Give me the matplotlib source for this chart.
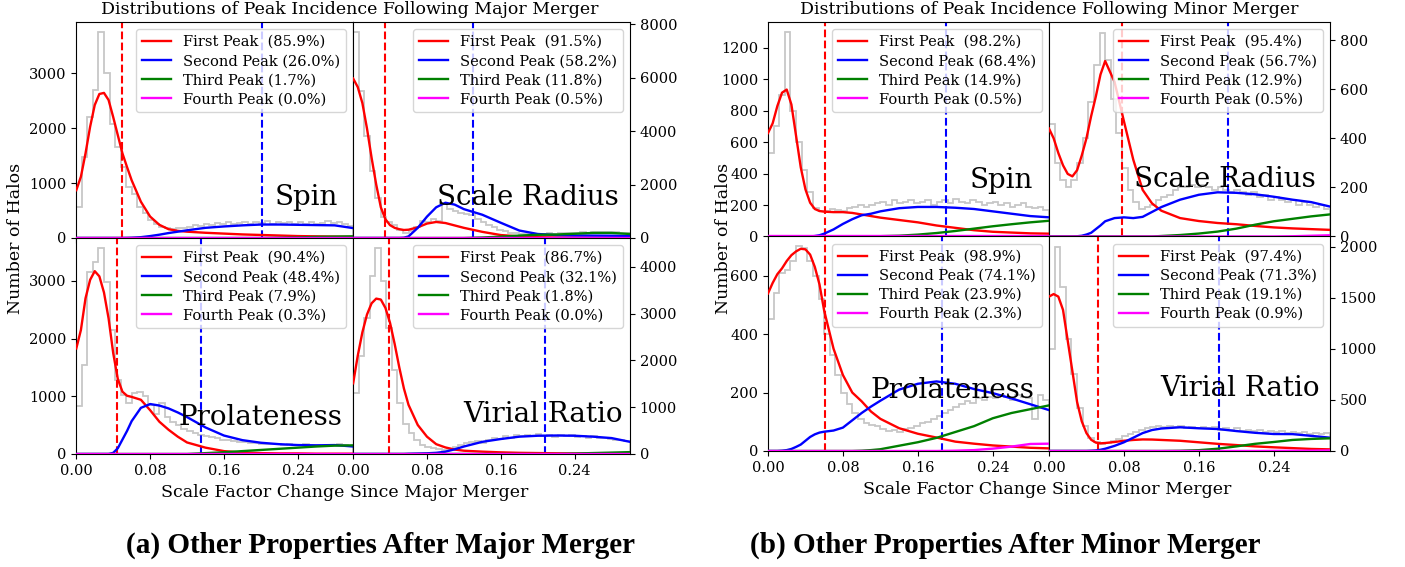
import numpy as np
import matplotlib
matplotlib.use("Agg")
import matplotlib.pyplot as plt

plt.rcParams['font.family'] = 'DejaVu Serif'

a_grid = [0, .005, .01, .015, .02, .025, .03, .035, .04, .045, .05, .055, .06,
          .07, .08, .09, .10, .11, .12, .14, .16, .18, .20, .22, .24, .26, .28, .30]
# histogram bins (50 bins from 0 to 0.3)
hist_edges = np.linspace(0, 0.30, 51)

peak_names = ["First Peak ", "Second Peak", "Third Peak", "Fourth Peak"]
peak_colors = ["red", "blue", "green", "magenta"]
flat_zero = [0, 0, 0, 0, 0, 0, 0, 0, 0, 0, 0, 0, 0, 0,
             0, 0, 0, 0, 0, 0, 0, 0, 0, 0, 0, 0, 0, 0]

# ---------------- major merger ----------------
maj_spin_hist = [570, 1480, 2200, 2690, 3750, 3000, 2080, 1660, 1300, 930, 800, 570, 450, 330, 250, 200, 180,
                 170, 190, 180, 200, 230, 210, 250, 230, 270, 250, 290, 260, 280, 290, 250, 300, 270, 310, 260,
                 290, 270, 300, 250, 290, 260, 300, 250, 280, 310, 270, 290, 250, 220]
maj_spin_first = [870, 1115, 1540, 2025, 2420, 2620, 2640, 2510, 2200, 1870, 1540, 1290, 1050, 660, 390, 240,
                  160, 130, 115, 95, 80, 65, 55, 45, 35, 30, 25, 20]
maj_spin_second = [0, 0, 0, 0, 0, 0, 0, 0, 0, 0, 0, 2, 5, 15, 35, 60, 90, 115, 140, 185, 210, 230, 245, 245,
                   240, 235, 230, 180]
maj_spin_third = [0, 0, 0, 0, 0, 0, 0, 0, 0, 0, 0, 0, 0, 0, 0, 0, 0, 0, 0, 0, 0, 0, 0, 5, 10, 20, 25, 30]
maj_spin_pct = [85.9, 26.0, 1.7, 0.0]
maj_spin_mean = [0.050, 0.201]

maj_rs_hist = [7700, 5500, 3800, 2500, 1500, 800, 600, 500, 300, 200, 250, 400, 650, 600, 700, 650, 1300, 1100,
               1000, 950, 900, 850, 700, 600, 500, 400, 300, 250, 200, 180, 160, 150, 140, 150, 160, 170, 160,
               180, 190, 200, 190, 210, 200, 220, 210, 230, 220, 210, 200, 190]
maj_rs_first = [5970, 5650, 5050, 4100, 3000, 2000, 1150, 700, 480, 380, 330, 300, 310, 400, 540, 600, 560,
                470, 380, 230, 110, 60, 30, 20, 15, 10, 10, 10]
maj_rs_second = [0, 0, 0, 0, 0, 0, 0, 0, 0, 0, 0, 10, 60, 380, 800, 1150, 1320, 1250, 1080, 870, 570, 280,
                 150, 110, 95, 90, 85, 80]
maj_rs_third = [0, 0, 0, 0, 0, 0, 0, 0, 0, 0, 0, 0, 0, 0, 0, 0, 0, 0, 0, 20, 50, 90, 120, 130, 160, 190, 190, 150]
maj_rs_pct = [91.5, 58.2, 11.8, 0.5]
maj_rs_mean = [0.034, 0.130]

maj_prol_hist = [840, 1540, 3150, 3330, 3570, 2990, 2150, 1280, 1020, 880, 1050, 1080, 1000, 850, 700, 880,
                 650, 560, 500, 430, 400, 370, 330, 310, 290, 270, 250, 240, 220, 210, 200, 190, 185, 180, 170,
                 165, 180, 160, 170, 160, 155, 170, 160, 150, 145, 160, 150, 165, 150, 140]
maj_prol_first = [1830, 2150, 2700, 3020, 3170, 3080, 2800, 2350, 1750, 1300, 1080, 1010, 990, 940, 760, 560,
                  420, 300, 200, 110, 50, 25, 15, 10, 10, 5, 5, 5]
maj_prol_second = [0, 0, 0, 0, 0, 0, 0, 0, 20, 100, 250, 400, 570, 800, 866, 840, 790, 720, 640, 460, 320, 240,
                   195, 170, 155, 150, 155, 130]
maj_prol_third = [0, 0, 0, 0, 0, 0, 0, 0, 0, 0, 0, 0, 0, 0, 0, 0, 0, 0, 0, 15, 30, 50, 70, 90, 110, 130, 145, 150]
maj_prol_pct = [90.4, 48.4, 7.9, 0.3]
maj_prol_mean = [0.044, 0.135]

maj_vir_hist = [1300, 2100, 2900, 3800, 4400, 3700, 2700, 1800, 1100, 650, 450, 300, 200, 150, 120, 100, 90,
                110, 150, 200, 230, 260, 280, 240, 300, 350, 330, 380, 350, 400, 380, 410, 390, 420, 380, 400,
                370, 410, 380, 400, 360, 390, 350, 380, 340, 350, 320, 300, 290, 270]
maj_vir_first = [1510, 2100, 2600, 2980, 3220, 3320, 3300, 3120, 2800, 2350, 1850, 1400, 1050, 620, 370, 210,
                 140, 95, 70, 50, 35, 25, 20, 15, 10, 10, 5, 5]
maj_vir_second = [0, 0, 0, 0, 0, 0, 0, 0, 0, 0, 0, 0, 5, 10, 15, 25, 50, 100, 160, 260, 320, 370, 390, 395,
                  390, 370, 340, 260]
maj_vir_third = [0, 0, 0, 0, 0, 0, 0, 0, 0, 0, 0, 0, 0, 0, 0, 0, 0, 0, 0, 0, 0, 0, 0, 0, 10, 20, 30, 40]
maj_vir_pct = [86.7, 32.1, 1.8, 0.0]
maj_vir_mean = [0.039, 0.208]

# ---------------- minor merger ----------------
min_spin_hist = [530, 700, 900, 1300, 800, 600, 420, 280, 180, 165, 160, 175, 170, 160, 180, 190, 200, 190,
                 200, 210, 220, 200, 230, 210, 220, 230, 210, 220, 230, 200, 220, 230, 210, 240, 220, 210, 230,
                 220, 200, 210, 220, 200, 210, 190, 200, 210, 190, 180, 190, 170]
min_spin_first = [658, 720, 830, 915, 935, 840, 640, 440, 300, 215, 175, 162, 158, 155, 155, 150, 140, 130,
                  120, 105, 90, 70, 55, 40, 30, 25, 20, 18]
min_spin_second = [0, 0, 0, 0, 0, 0, 0, 0, 0, 0, 3, 8, 18, 45, 80, 110, 135, 145, 160, 180, 188, 188, 183,
                   175, 160, 145, 130, 122]
min_spin_third = [0, 0, 0, 0, 0, 0, 0, 0, 0, 0, 0, 0, 0, 0, 0, 0, 0, 0, 2, 5, 12, 22, 35, 50, 65, 78, 90, 100]
min_spin_pct = [98.2, 68.4, 14.9, 0.5]
min_spin_mean = [0.061, 0.190]

min_rs_hist = [460, 300, 230, 200, 230, 300, 400, 550, 700, 830, 720, 560, 420, 280, 190, 140, 110, 120, 130,
               150, 160, 170, 190, 200, 200, 210, 200, 210, 200, 190, 200, 190, 180, 190, 180, 170, 180, 160,
               170, 150, 160, 150, 140, 150, 130, 140, 130, 120, 130, 110]
min_rs_first = [440, 400, 340, 290, 255, 245, 270, 330, 400, 490, 570, 660, 715, 630, 470, 313, 190, 135, 105,
                75, 63, 55, 50, 43, 37, 33, 30, 27]
min_rs_second = [0, 0, 0, 0, 0, 0, 1, 3, 8, 15, 30, 45, 62, 75, 78, 75, 80, 100, 120, 150, 170, 180, 178, 172,
                 162, 150, 140, 122]
min_rs_third = [0, 0, 0, 0, 0, 0, 0, 0, 0, 0, 0, 0, 0, 0, 0, 0, 0, 0, 2, 6, 12, 20, 32, 48, 62, 72, 82, 90]
min_rs_fourth = [0, 0, 0, 0, 0, 0, 0, 0, 0, 0, 0, 0, 0, 0, 0, 0, 0, 0, 0, 0, 0, 0, 0, 0, 0, 1, 3, 5]
min_rs_pct = [95.4, 56.7, 12.9, 0.5]
min_rs_mean = [0.078, 0.191]

min_prol_hist = [450, 540, 610, 620, 650, 700, 695, 650, 600, 520, 400, 330, 260, 200, 160, 130, 110, 95, 90,
                 85, 75, 70, 72, 65, 75, 80, 85, 95, 100, 110, 120, 130, 140, 150, 160, 170, 165, 180, 175,
                 185, 180, 190, 185, 175, 190, 185, 180, 110, 190, 175]
min_prol_first = [539, 575, 605, 625, 650, 670, 683, 692, 690, 672, 630, 570, 480, 350, 260, 200, 170, 135,
                  110, 78, 59, 46, 32, 25, 19, 15, 11, 9]
min_prol_second = [0, 0, 0, 1, 3, 7, 14, 22, 35, 48, 57, 63, 66, 70, 80, 105, 130, 152, 172, 210, 230, 238,
                   230, 212, 198, 180, 160, 140]
min_prol_third = [0, 0, 0, 0, 0, 0, 0, 0, 0, 0, 0, 0, 0, 0, 0, 0, 1, 3, 6, 18, 30, 45, 65, 85, 112, 130, 143, 156]
min_prol_fourth = [0, 0, 0, 0, 0, 0, 0, 0, 0, 0, 0, 0, 0, 0, 0, 0, 0, 0, 0, 0, 0, 0, 1, 3, 8, 15, 24, 25]
min_prol_pct = [98.9, 74.1, 23.9, 2.3]
min_prol_mean = [0.061, 0.186]

min_vir_hist = [1000, 2000, 1600, 1100, 750, 420, 240, 130, 90, 70, 80, 100, 120, 150, 170, 190, 210, 220,
                230, 240, 230, 240, 230, 240, 220, 230, 220, 230, 220, 230, 210, 220, 210, 220, 200, 210, 200,
                210, 190, 200, 190, 200, 180, 190, 180, 190, 170, 180, 170, 180]
min_vir_first = [1510, 1535, 1510, 1380, 1080, 780, 480, 290, 175, 110, 82, 75, 78, 88, 100, 108, 113, 112,
                 108, 100, 85, 70, 58, 45, 36, 28, 20, 16]
min_vir_second = [0, 0, 0, 0, 0, 0, 0, 0, 0, 2, 5, 12, 22, 50, 85, 130, 175, 205, 220, 232, 222, 215, 195,
                  178, 166, 165, 148, 130]
min_vir_third = [0, 0, 0, 0, 0, 0, 0, 0, 0, 0, 0, 0, 0, 0, 0, 0, 0, 0, 0, 2, 8, 22, 45, 70, 88, 108, 118, 124]
min_vir_fourth = [0, 0, 0, 0, 0, 0, 0, 0, 0, 0, 0, 0, 0, 0, 0, 0, 0, 0, 0, 0, 0, 0, 0, 0, 1, 2, 3, 5]
min_vir_pct = [97.4, 71.3, 19.1, 0.9]
min_vir_mean = [0.052, 0.182]


def draw_panel(ax, hist, curves, pct, means, name, name_xy, ylim, yticks, right=False):
    ax.stairs(hist, hist_edges, color='0.78', lw=1.3, zorder=1)
    for c, col, lab, p in zip(curves, peak_colors, peak_names, pct):
        ax.plot(a_grid, c, color=col, lw=1.7, label=f"{lab} ({p:.1f}%)", zorder=3)
    ax.axvline(means[0], color='red', ls='--', lw=1.5, zorder=2)
    ax.axvline(means[1], color='blue', ls='--', lw=1.5, zorder=2)
    ax.legend(loc='upper right', fontsize=10.5, labelspacing=0.35, borderaxespad=0.5)
    ax.text(name_xy[0], name_xy[1], name, transform=ax.transAxes, ha='right',
            va='baseline', fontsize=20)
    ax.set_xlim(0, 0.30)
    ax.set_ylim(0, ylim)
    ax.set_yticks(yticks)
    ax.set_xticks([0, 0.08, 0.16, 0.24])
    ax.set_xticklabels(["0.00", "0.08", "0.16", "0.24"])
    ax.tick_params(labelsize=10.5)
    if right:
        ax.yaxis.tick_right()


fig = plt.figure(figsize=(14.05, 5.67), dpi=100)

gl = fig.add_gridspec(2, 2, left=0.0543, right=0.4484, top=0.9612, bottom=0.1993, hspace=0, wspace=0)
gr = fig.add_gridspec(2, 2, left=0.5466, right=0.9466, top=0.9612, bottom=0.2046, hspace=0, wspace=0)

ax = fig.add_subplot(gl[0, 0])
draw_panel(ax, maj_spin_hist, [maj_spin_first, maj_spin_second, maj_spin_third, flat_zero],
           maj_spin_pct, maj_spin_mean, "Spin", (0.945, 0.153), 3930, [0, 1000, 2000, 3000])
ax.tick_params(labelbottom=False)
ax = fig.add_subplot(gl[0, 1])
draw_panel(ax, maj_rs_hist, [maj_rs_first, maj_rs_second, maj_rs_third, flat_zero],
           maj_rs_pct, maj_rs_mean, "Scale Radius", (0.96, 0.153), 8085,
           [0, 2000, 4000, 6000, 8000], right=True)
ax.tick_params(labelbottom=False)
ax = fig.add_subplot(gl[1, 0])
draw_panel(ax, maj_prol_hist, [maj_prol_first, maj_prol_second, maj_prol_third, flat_zero],
           maj_prol_pct, maj_prol_mean, "Prolateness", (0.962, 0.134), 3745, [0, 1000, 2000, 3000])
ax = fig.add_subplot(gl[1, 1])
draw_panel(ax, maj_vir_hist, [maj_vir_first, maj_vir_second, maj_vir_third, flat_zero],
           maj_vir_pct, maj_vir_mean, "Virial Ratio", (0.975, 0.148), 4615,
           [0, 1000, 2000, 3000, 4000], right=True)

ax = fig.add_subplot(gr[0, 0])
draw_panel(ax, min_spin_hist, [min_spin_first, min_spin_second, min_spin_third, flat_zero],
           min_spin_pct, min_spin_mean, "Spin", (0.942, 0.228), 1365,
           [0, 200, 400, 600, 800, 1000, 1200])
ax.tick_params(labelbottom=False)
ax = fig.add_subplot(gr[0, 1])
draw_panel(ax, min_rs_hist, [min_rs_first, min_rs_second, min_rs_third, min_rs_fourth],
           min_rs_pct, min_rs_mean, "Scale Radius", (0.948, 0.233), 874,
           [0, 200, 400, 600, 800], right=True)
ax.tick_params(labelbottom=False)
ax = fig.add_subplot(gr[1, 0])
draw_panel(ax, min_prol_hist, [min_prol_first, min_prol_second, min_prol_third, min_prol_fourth],
           min_prol_pct, min_prol_mean, "Prolateness", (0.948, 0.248), 734, [0, 200, 400, 600])
ax = fig.add_subplot(gr[1, 1])
draw_panel(ax, min_vir_hist, [min_vir_first, min_vir_second, min_vir_third, min_vir_fourth],
           min_vir_pct, min_vir_mean, "Virial Ratio", (0.962, 0.257), 2098,
           [0, 500, 1000, 1500, 2000], right=True)

# titles and shared axis labels
fig.text(0.249, 0.984, "Distributions of Peak Incidence Following Major Merger", ha='center',
         va='center', fontsize=12.5)
fig.text(0.747, 0.984, "Distributions of Peak Incidence Following Minor Merger", ha='center',
         va='center', fontsize=12.5)
fig.text(0.245, 0.132, "Scale Factor Change Since Major Merger", ha='center', va='center', fontsize=12.5)
fig.text(0.745, 0.137, "Scale Factor Change Since Minor Merger", ha='center', va='center', fontsize=12.5)
fig.text(0.011, 0.58, "Number of Halos", rotation=90, ha='center', va='center', fontsize=12.5)
fig.text(0.515, 0.58, "Number of Halos", rotation=90, ha='center', va='center', fontsize=12.5)

fig.text(0.2705, 0.038, "(a) Other Properties After Major Merger", ha='center', va='center',
         family='Liberation Serif', fontweight='bold', fontsize=21)
fig.text(0.7155, 0.038, "(b) Other Properties After Minor Merger", ha='center', va='center',
         family='Liberation Serif', fontweight='bold', fontsize=21)

fig.savefig("out.png", dpi=100)
